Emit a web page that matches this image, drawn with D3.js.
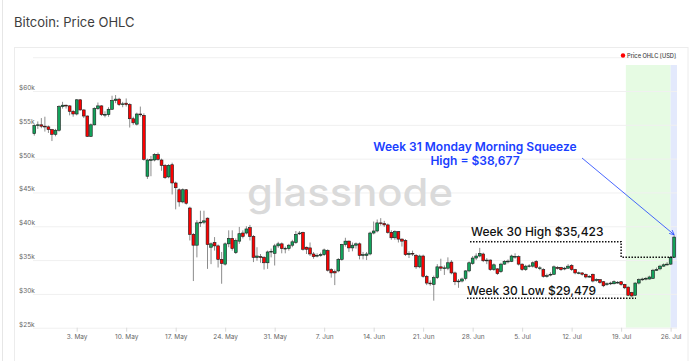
<html>

<body style="margin:0;background:#fff">
    <script src="https://cdn.jsdelivr.net/npm/d3@7/dist/d3.min.js"></script>
    <div id="main"></div>

    <script>
        // 12h OHLC candles, Bitcoin price in thousands of USD
        var startTime = "2021-04-27T00:00:00Z";
        var stepHours = 12;

        var open = [
            53.7, 54.9, 55.0, 54.8, 54.7, 54.3, 53.6, 54.2, 57.7, 57.9,
            57.8, 57.0, 56.6, 58.7, 57.2, 56.3, 53.3, 55.0, 57.4, 57.8,
            56.5, 56.5, 57.3, 58.6, 58.8, 58.0, 58.2, 58.0, 55.9, 55.1,
            56.6, 56.4, 47.4, 49.8, 49.8, 50.6, 49.8, 49.0, 47.3, 49.1,
            46.4, 45.4, 43.6, 45.4, 42.7, 38.8, 37.2, 40.5, 40.6, 41.2,
            36.9, 37.6, 37.1, 35.1, 34.4, 37.4, 38.2, 36.1, 37.8, 39.0,
            39.0, 39.8, 38.5, 35.4, 35.5, 35.4, 34.6, 36.2, 36.0, 37.1,
            37.4, 36.7, 36.7, 37.2, 37.6, 38.9, 39.1, 36.9, 36.8, 35.9,
            35.6, 35.7, 35.8, 36.4, 33.6, 33.3, 33.4, 35.1, 37.3, 37.8,
            36.8, 37.2, 37.4, 35.7, 35.7, 35.9, 39.0, 39.3, 40.5, 40.4,
            40.2, 39.1, 38.3, 39.2, 38.1, 37.9, 35.8, 36.0, 35.7, 34.0,
            35.6, 32.6, 31.6, 31.4, 32.4, 34.0, 33.8, 33.8, 34.7, 33.1,
            31.8, 31.9, 32.3, 33.4, 34.5, 35.3, 35.6, 35.9, 34.9, 35.0,
            33.6, 33.7, 33.3, 34.4, 34.8, 34.8, 35.5, 35.5, 34.4, 33.6,
            34.1, 34.1, 34.8, 33.8, 33.6, 32.6, 32.8, 32.9, 33.9, 33.9,
            33.7, 33.8, 34.2, 33.6, 33.1, 33.1, 32.9, 32.5, 32.9, 32.0,
            32.1, 31.8, 31.4, 31.5, 31.5, 31.7, 31.8, 31.4, 31.0, 30.2,
            29.8, 31.6, 32.1, 32.2, 32.2, 32.3, 33.5, 33.7, 34.1, 34.3,
            34.4, 35.4
        ];
        var high = [
            55.1, 55.5, 56.0, 56.2, 54.9, 54.4, 54.4, 57.9, 58.4, 58.0,
            57.9, 57.2, 58.8, 58.8, 57.3, 56.4, 55.2, 57.6, 58.3, 57.9,
            57.0, 57.6, 59.3, 59.4, 59.0, 58.4, 58.9, 58.2, 56.2, 56.8,
            57.7, 56.7, 50.0, 50.4, 50.8, 50.9, 50.0, 49.2, 49.2, 49.4,
            46.6, 45.6, 45.6, 45.5, 42.9, 39.0, 40.9, 42.3, 42.3, 41.3,
            37.6, 38.4, 37.3, 36.2, 37.6, 39.4, 39.4, 38.2, 39.9, 39.4,
            40.0, 40.2, 38.7, 36.9, 35.9, 35.6, 36.4, 36.7, 37.4, 37.7,
            37.6, 37.0, 37.4, 38.0, 39.3, 39.3, 39.2, 37.0, 37.6, 36.2,
            36.0, 36.1, 36.7, 36.6, 33.8, 33.6, 35.3, 37.4, 38.3, 37.9,
            37.6, 37.6, 37.6, 36.2, 36.2, 39.2, 40.7, 41.0, 41.2, 40.8,
            40.4, 39.4, 39.4, 39.3, 38.2, 38.1, 36.3, 36.4, 35.9, 35.8,
            35.8, 32.8, 32.0, 32.7, 34.4, 35.2, 34.2, 35.4, 35.0, 33.3,
            32.2, 32.4, 33.5, 34.8, 35.6, 36.0, 36.8, 36.1, 35.3, 35.1,
            34.5, 33.8, 34.6, 35.0, 35.1, 35.8, 36.0, 35.7, 34.5, 34.3,
            34.4, 34.8, 35.0, 34.1, 33.8, 33.0, 33.2, 34.2, 34.1, 34.0,
            34.0, 34.4, 34.4, 33.7, 33.3, 33.2, 33.0, 32.8, 33.0, 32.3,
            32.2, 31.9, 31.7, 31.8, 32.0, 31.9, 31.9, 31.5, 31.1, 30.3,
            31.7, 32.3, 32.4, 32.5, 32.7, 33.7, 33.9, 34.3, 34.5, 34.7,
            35.6, 38.677
        ];
        var low = [
            53.4, 54.4, 54.5, 54.0, 53.8, 52.6, 53.3, 54.0, 57.4, 57.4,
            56.4, 56.2, 56.4, 57.1, 56.0, 53.2, 53.2, 54.9, 57.2, 56.3,
            56.1, 56.2, 57.2, 58.2, 57.8, 57.6, 57.7, 54.6, 55.0, 54.9,
            56.2, 49.7, 47.0, 47.4, 49.6, 49.7, 48.2, 47.0, 47.1, 44.7,
            42.5, 42.9, 43.4, 43.2, 37.9, 31.9, 35.4, 39.9, 40.3, 33.7,
            34.4, 36.4, 33.9, 31.5, 34.2, 36.9, 36.4, 35.9, 37.4, 38.2,
            38.8, 37.9, 34.7, 34.9, 34.6, 33.6, 33.7, 35.4, 34.2, 36.8,
            36.0, 36.0, 36.4, 36.9, 37.4, 38.7, 36.4, 35.9, 35.6, 35.2,
            35.4, 35.5, 35.6, 33.3, 32.4, 31.3, 33.2, 34.9, 37.0, 36.2,
            36.3, 36.7, 35.1, 35.1, 35.0, 35.7, 38.8, 39.1, 40.1, 39.9,
            38.9, 38.0, 38.0, 37.6, 37.0, 35.6, 35.3, 35.6, 33.7, 33.8,
            32.4, 31.3, 31.2, 29.0, 32.2, 33.4, 32.8, 33.5, 32.9, 31.3,
            30.9, 31.7, 32.0, 33.2, 34.3, 35.0, 35.4, 34.7, 34.4, 33.4,
            33.4, 32.8, 33.1, 34.3, 34.5, 34.7, 35.2, 34.2, 33.4, 33.4,
            33.9, 33.9, 33.7, 33.5, 32.4, 32.4, 32.6, 32.8, 33.6, 33.4,
            33.5, 33.7, 33.4, 32.9, 32.9, 32.7, 32.3, 32.4, 31.7, 31.8,
            31.5, 31.0, 31.2, 31.3, 31.4, 31.5, 31.2, 30.7, 29.7, 29.479,
            29.7, 31.4, 31.9, 32.0, 32.1, 32.2, 33.4, 33.5, 34.0, 34.2,
            34.3, 35.4
        ];
        var close = [
            54.9, 55.0, 54.8, 54.7, 54.3, 53.6, 54.2, 57.7, 57.9, 57.8,
            57.0, 56.6, 58.7, 57.2, 56.3, 53.3, 55.0, 57.4, 57.8, 56.5,
            56.55, 57.3, 58.6, 58.8, 58.0, 58.1, 58.0, 55.9, 55.3, 56.6,
            56.5, 49.9, 49.8, 49.85, 50.6, 49.9, 49.0, 47.2, 49.0, 46.4,
            45.7, 43.6, 45.4, 43.4, 38.8, 37.2, 40.5, 40.6, 40.8, 37.3,
            37.4, 37.1, 35.1, 34.5, 37.4, 38.2, 36.7, 37.9, 38.9, 38.5,
            39.6, 38.5, 35.4, 35.6, 35.45, 34.6, 36.2, 36.3, 37.1, 37.4,
            36.7, 36.75, 37.2, 37.7, 38.8, 39.0, 36.6, 36.6, 35.9, 35.5,
            35.7, 35.8, 36.5, 33.5, 33.1, 33.1, 35.1, 37.3, 37.8, 36.8,
            37.2, 37.4, 35.7, 35.8, 35.9, 39.0, 39.3, 40.5, 40.4, 40.2,
            39.1, 38.3, 39.2, 38.1, 37.8, 35.8, 36.0, 35.9, 34.0, 35.6,
            32.6, 31.6, 31.5, 32.4, 34.0, 33.8, 33.85, 34.6, 33.1, 31.8,
            31.9, 32.2, 33.4, 34.6, 35.3, 35.6, 36.0, 34.9, 35.0, 33.6,
            34.3, 33.0, 34.4, 34.8, 34.85, 35.6, 35.55, 34.4, 33.6, 34.1,
            34.15, 34.6, 33.9, 33.85, 32.6, 32.7, 32.9, 34.0, 33.8, 33.6,
            33.8, 34.1, 33.6, 33.1, 33.12, 32.9, 32.5, 32.6, 31.9, 32.1,
            31.7, 31.2, 31.5, 31.6, 31.8, 31.72, 31.4, 30.9, 29.8, 29.7,
            31.6, 32.1, 32.2, 32.3, 32.5, 33.5, 33.6, 34.1, 34.3, 34.4,
            35.4, 38.4
        ];

        var yTicks = [25, 30, 35, 40, 45, 50, 55, 60, 65];
        var yTickLabels = ["$25k", "$30k", "$35k", "$40k", "$45k", "$50k", "$55k", "$60k", ""];
        var xTickDates = ["2021-05-03", "2021-05-10", "2021-05-17", "2021-05-24", "2021-05-31", "2021-06-07",
            "2021-06-14", "2021-06-21", "2021-06-28", "2021-07-05", "2021-07-12", "2021-07-19", "2021-07-26"];

        var week30High = 35.423, week30Low = 29.479, squeezeHigh = 38.677;

        var t0 = new Date(startTime).getTime();
        var data = open.map(function (o, i) {
            return { t: new Date(t0 + i * stepHours * 3600e3), o: o, h: high[i], l: low[i], c: close[i] };
        });

        var width = 700, height = 361;
        var font = "Inter, 'Noto Sans', sans-serif";
        var blueCol = "#1a40ff";

        var svg = d3.select("#main")
            .append("svg")
            .attr("width", width)
            .attr("height", height)
            .style("display", "block")
            .style("font-family", font);

        // frames
        svg.append("line").attr("x1", 2.5).attr("x2", 2.5).attr("y1", 0).attr("y2", height)
            .attr("stroke", "#e6e6e6");
        svg.append("rect").attr("x", 14.5).attr("y", 47.5).attr("width", 673.5).attr("height", 320)
            .attr("fill", "#fff").attr("stroke", "#ececec");

        svg.append("text")
            .attr("x", 14).attr("y", 27)
            .style("font-size", "13px").attr("fill", "#3d3d3d")
            .text("Bitcoin: Price OHLC");

        var x = d3.scaleUtc()
            .domain([new Date("2021-04-26T19:40:00Z"), new Date("2021-07-26T21:40:00Z")])
            .range([33, 677]);
        var y = d3.scaleLinear()
            .domain([25, 65])
            .range([327.7, 57.2]);

        // week 30 / current week bands
        svg.append("rect")
            .attr("x", x(new Date("2021-07-19T16:00:00Z")))
            .attr("width", x(new Date("2021-07-26T00:00:00Z")) - x(new Date("2021-07-19T16:00:00Z")))
            .attr("y", 65).attr("height", y(25) - 65)
            .attr("fill", "#e6fbe3");
        svg.append("rect")
            .attr("x", x(new Date("2021-07-26T00:00:00Z")))
            .attr("width", 677 - x(new Date("2021-07-26T00:00:00Z")))
            .attr("y", 65).attr("height", y(25) - 65)
            .attr("fill", "#e3e9fc");

        // grid
        svg.append("g").selectAll("line")
            .data(yTicks).enter().append("line")
            .attr("x1", 33).attr("x2", 677)
            .attr("y1", function (d) { return y(d) + 0.5; })
            .attr("y2", function (d) { return y(d) + 0.5; })
            .attr("stroke", "#f0f0f0");
        svg.append("g").selectAll("text")
            .data(yTicks).enter().append("text")
            .attr("x", 19)
            .attr("y", function (d) { return y(d) - 1; })
            .style("font-size", "6.5px").attr("fill", "#666")
            .text(function (d, i) { return yTickLabels[i]; });

        // x axis
        var xAxis = svg.append("g")
            .attr("transform", "translate(0," + y(25) + ")")
            .call(d3.axisBottom(x)
                .tickValues(xTickDates.map(function (d) { return new Date(d + "T00:00:00Z"); }))
                .tickFormat(d3.utcFormat("%-d. %b"))
                .tickSize(4));
        xAxis.select(".domain").remove();
        xAxis.selectAll(".tick line").attr("stroke", "#d9d9d9");
        xAxis.selectAll(".tick text").attr("fill", "#666").style("font-size", "6.5px").style("font-family", font);

        // watermark
        svg.append("text")
            .attr("x", 350).attr("y", 206)
            .attr("text-anchor", "middle")
            .attr("textLength", 206).attr("lengthAdjust", "spacingAndGlyphs")
            .style("font-size", "38px").style("font-weight", 500)
            .attr("fill", "#dadada")
            .text("glassnode");

        // legend
        svg.append("circle").attr("cx", 623).attr("cy", 55.5).attr("r", 2.2).attr("fill", "#f00");
        svg.append("text").attr("x", 627).attr("y", 57.6)
            .style("font-size", "5.7px").style("font-weight", 500).attr("fill", "#444")
            .text("Price OHLC [USD]");

        // candles
        var candles = svg.append("g").selectAll("g")
            .data(data).enter().append("g");
        candles.append("line")
            .attr("x1", function (d) { return x(d.t); })
            .attr("x2", function (d) { return x(d.t); })
            .attr("y1", function (d) { return y(d.h); })
            .attr("y2", function (d) { return y(d.l); })
            .attr("stroke", "#8c8c8c").attr("stroke-width", 1);
        candles.append("rect")
            .attr("x", function (d) { return x(d.t) - 1.4; })
            .attr("width", 2.8)
            .attr("y", function (d) { return y(Math.max(d.o, d.c)); })
            .attr("height", function (d) { return Math.max(0.8, Math.abs(y(d.o) - y(d.c))); })
            .attr("fill", function (d) { return d.c >= d.o ? "#12a45c" : "#ff0000"; })
            .attr("stroke", "#1c1c1c").attr("stroke-width", 0.6);

        // annotations
        var last = data[data.length - 1];
        svg.append("defs").append("marker")
            .attr("id", "arr").attr("viewBox", "0 0 8 8").attr("refX", 7).attr("refY", 4)
            .attr("markerWidth", 7).attr("markerHeight", 7).attr("orient", "auto")
            .append("path").attr("d", "M0,0.5 L7,4 L0,7.5")
            .attr("fill", "none").attr("stroke", blueCol).attr("stroke-width", 1);
        svg.append("line")
            .attr("x1", 582).attr("y1", 158)
            .attr("x2", x(last.t)).attr("y2", y(squeezeHigh) - 0.5)
            .attr("stroke", blueCol).attr("stroke-width", 0.8)
            .attr("marker-end", "url(#arr)");
        var blue = svg.append("text")
            .attr("text-anchor", "middle")
            .style("font-size", "12px").style("font-weight", 600)
            .attr("fill", blueCol);
        blue.append("tspan").attr("x", 475).attr("y", 150.5).text("Week 31 Monday Morning Squeeze");
        blue.append("tspan").attr("x", 475).attr("y", 165).text("High = $38,677");

        svg.append("text")
            .attr("x", 471).attr("y", 235.5)
            .style("font-size", "12px").style("font-weight", 500).attr("fill", "#111")
            .text("Week 30 High $35,423");
        svg.append("path")
            .attr("d", "M470,241.7H" + x(new Date("2021-07-19T00:00:00Z")) + "V" + y(week30High) + "H" + x(last.t))
            .attr("fill", "none").attr("stroke", "#111").attr("stroke-width", 1.5)
            .attr("stroke-dasharray", "1.5,1.5");

        svg.append("text")
            .attr("x", 467).attr("y", 294.5)
            .style("font-size", "12px").style("font-weight", 500).attr("fill", "#111")
            .text("Week 30 Low $29,479");
        svg.append("path")
            .attr("d", "M467," + (y(week30Low) + 0.8) + "H636")
            .attr("fill", "none").attr("stroke", "#111").attr("stroke-width", 1.5)
            .attr("stroke-dasharray", "1.5,1.5");
    </script>
</body>

</html>
